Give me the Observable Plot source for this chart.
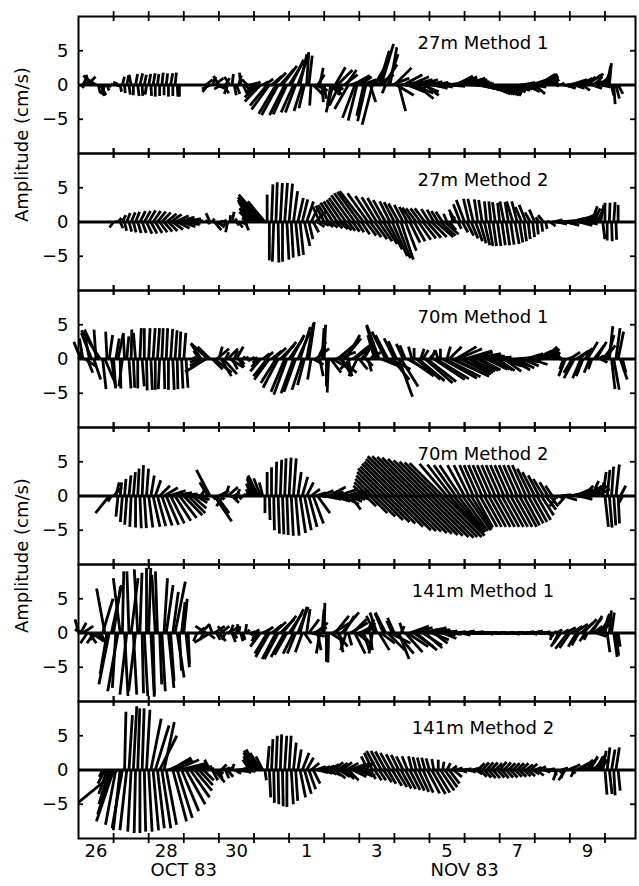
<!DOCTYPE html>
<html><head><meta charset="utf-8">
<script src="https://cdn.jsdelivr.net/npm/d3@7"></script>
<script src="https://cdn.jsdelivr.net/npm/@observablehq/plot@0.6"></script>
<style>
body{margin:0;background:#fff}
g[aria-label="panel-title"] text{letter-spacing:0.8px}
g[aria-label="y-label"] text{letter-spacing:2px}
g[aria-label="month-label"] text{letter-spacing:1.5px}
</style>
</head><body><div id="chart"></div>
<script>
// Panels (top to bottom)
const panels = ["27m Method 1","27m Method 2","70m Method 1","70m Method 2","141m Method 1","141m Method 2"];
// Samples every 3 h from 26 Oct 83 00:00 (arrays without suffix) and the samples
// in between, offset by 1.5 h (arrays with suffix "h"). u = east, v = north (cm/s)
const sampleStepDays = 0.125;

const u27m1 = [null,0.5,1.2,-1.2,-1.5,0.8,-0.5,0.3,0.2,0,
 0.3,0.3,-0.3,0.3,0.4,0.3,0.3,0.3,0.2,0.2,
 0.2,0.3,0.2,0,null,null,null,null,null,1,
 -1.2,1.3,-0.8,0.8,-0.5,0.2,0.5,-0.2,0.9,1.2,
 -1.0,-2,0.8,-2.5,1.5,-2.5,2.0,-2.2,2.0,-1.8,
 1.5,-1.2,0.3,-0.2,1.8,0.5,0.3,2.0,-1.0,2.2,
 -0.5,1.5,2.8,-1.8,1.8,-1.0,2.0,-1.5,2.5,1.8,
 -0.5,1.0,2.5,1.0,2.8,2.5,3.0,2.5,2.5,2.0,
 2.5,2.0,1.8,1.5,1.5,2.0,2.5,2.5,3.0,3.0,
 3.0,3.0,3.0,3.0,2.5,2.5,2.5,2.5,2.0,2.5,
 2.5,2.0,2.0,2.5,1.5,2.2,2.0,1.5,1.0,0.3,
 0.5,1.5,2.5,1.5,2.0,1.0,2.0,1.5,1.0,1.5,
 0.8,0.3,0.2,0.7,null];
const v27m1 = [null,1.0,1.2,1.4,1.0,-1.5,-1.4,-0.3,0.5,-0.3,
 1.2,1.4,1.5,1.6,1.7,1.5,1.6,1.7,1.6,1.8,
 1.7,1.7,1.8,-1.7,null,null,null,null,null,0.8,
 -0.6,1.0,1.3,-1.2,-1.3,1.6,-1.3,1.8,-1.0,0.3,
 -1.5,-1.8,0.5,-3.0,1.3,-4.2,2.3,-4.4,3.2,-4.0,
 4.2,-3.8,4.8,-3.0,-0.8,2.5,-2.0,-1.4,-4.0,2.2,
 -1.5,2.2,1.0,-4.8,1.2,-4.5,1.0,-5.8,1.5,6.0,
 -1.2,5.5,2.5,-3.8,1.5,-1.0,0.8,-2.0,0.8,-1.5,
 0.3,-0.5,0.2,-0.3,0.2,-0.2,1.3,0.9,1.0,0.5,
 0.2,-0.6,-0.8,-1.0,-1.2,-1.3,-1.4,-1.5,-1.2,-0.8,
 -0.5,0.4,-1.0,0.8,-1.3,1.5,1.6,1.2,0.8,-0.2,
 0.3,-0.5,0.8,-0.5,1.0,-0.8,1.5,-0.5,1.7,-0.3,
 2.0,3.2,-2.8,-1.3,null];
const u27m1h = [0.5,1.0,-0.5,-1.4,0.3,0.2,0.3,0.2,0.2,0.2,
 0.1,0.2,0,0.2,0.1,-0.2,0.1,0,0,0,
 0,0,0.1,null,null,null,null,null,null,-0.8,
 0.5,1.2,-1.0,0.6,-0.8,0.3,0.4,0.6,-0.8,-0.6,
 0.6,-2.3,1.2,-2.6,1.8,-2.4,2.1,-2.0,1.8,-1.5,
 1.0,-0.8,0.5,1.5,1.0,0.2,2.5,-0.5,1.5,-1.5,
 2.0,-2.0,2.5,-1.3,2.2,-1.2,0.8,2.0,1.5,2.0,
 1.5,2.5,2.5,2.0,3.0,2.8,2.8,2.5,2.3,2.2,
 2.2,1.8,1.6,1.5,1.8,2.3,2.8,2.8,3.0,3.0,
 3.0,3.0,3.0,2.8,2.5,2.5,2.5,2.2,2.2,2.5,
 2.2,2.0,2.2,2.0,2.0,2.1,1.8,1.2,0.6,0.4,
 1.0,2.0,2.0,1.8,1.5,1.5,1.8,1.2,1.2,1.0,
 0.5,0.3,0.5,null,null];
const v27m1h = [-0.4,0.4,1.5,0.3,-1.2,-1.6,-0.8,0.2,0.4,-1.0,
 -1.2,-1.4,-1.5,-1.6,-1.6,-1.4,-1.6,-1.7,-1.6,-1.5,
 -1.7,-1.6,-1.7,null,null,null,null,null,null,-1.0,
 1.2,-0.5,-0.6,1.0,1.2,-1.5,1.4,-1.3,0.8,-1.0,
 0.5,-2.4,0.9,-3.6,1.8,-4.4,2.8,-4.3,3.7,-4.0,
 4.5,-3.4,4.3,-1.5,1.5,-2.5,-0.6,-3.0,2.6,-3.0,
 1.5,-3.5,1.4,-5.2,0.8,-5.3,-2.5,3.5,5.0,3.0,
 4.5,1.0,-1.5,0.3,-0.5,1.2,-1.2,0.5,-1.0,0.5,
 -0.3,0.4,-0.2,0.1,0.0,0.8,1.2,0.8,0.8,0.3,
 -0.3,-0.7,-0.9,-1.1,-1.3,-1.4,-1.5,-1.3,-1.0,-0.6,
 -0.1,-0.5,0.2,-0.3,1.0,1.6,1.4,1.0,0.3,0.1,
 -0.2,0.3,0.2,0.5,0.2,1.2,0.5,1.2,0.8,1.5,
 2.8,-1.5,-2.0,null,null];

const u27m2 = [null,null,null,null,null,null,null,null,-0.6,0.5,
 0.5,0.5,0.6,0.6,0.8,0.9,1.0,1.1,1.2,1.3,
 1.5,1.6,2.0,2.2,2.5,2.2,null,null,null,0.3,
 -0.6,1.0,0.8,0.5,-0.3,0.3,0.4,1.0,0.5,-1.5,
 -2.0,-3.0,-3.5,0,0.2,0.2,0.3,0.4,0.5,0.6,
 0.8,0.8,1.0,1.0,1.5,-1.0,-1.2,-1.5,-1.8,-2.0,
 -2.2,-2.5,-2.8,-3.0,-3.2,-3.5,-3.0,-2.5,-2.2,-2.0,
 -1.8,-1.5,-1.5,-1.5,-1.3,-1.2,-1.4,-1.5,-1.5,-1.5,
 -1.2,-1.0,-1.0,-1.0,-0.5,0.5,-1.0,-1.0,-1.2,-0.8,
 -0.8,-0.5,-0.5,-0.3,-0.3,-0.4,-0.3,-0.6,-0.5,-0.9,
 -0.8,-0.9,-1.0,-0.8,-0.8,-0.5,-0.8,0.2,1.5,1.5,
 2.0,2.0,2.0,2.5,2.0,1.5,1.5,0.8,1.0,0.5,
 0,0.1,0.2,0,null];
const v27m2 = [null,null,null,null,null,null,null,null,-0.8,0.6,
 1.0,1.3,1.4,1.5,1.6,1.6,1.7,1.6,1.5,1.4,
 1.2,1.1,0.9,0.7,0.5,0.2,null,null,null,0.3,
 1.3,-1.2,-0.8,0.3,-1.5,1.5,-0.5,-0.4,-1.2,1.5,
 2.5,3.2,4.0,4.0,5.5,5.8,5.7,5.7,5.6,4.5,
 3.5,3.3,3.0,2.0,1.5,2.2,2.4,2.5,2.8,3.0,
 3.2,3.5,3.9,4.2,4.4,4.5,4.2,3.8,3.6,3.5,
 3.2,3.0,2.9,2.7,2.5,2.2,2.1,2.0,2.0,2.0,
 1.9,1.8,1.6,1.5,1.2,0.8,1.8,2.6,3.2,3.4,
 3.4,3.3,3.2,3.0,3.0,2.9,2.8,3.0,2.9,3.0,
 3.0,2.2,2.5,1.4,1.8,0.7,1.0,0.2,0.3,-0.3,
 0.2,-0.5,0.5,0.8,-0.5,1.0,-0.3,2.3,1.5,2.5,
 2.8,2.8,2.9,2.5,null];
const u27m2h = [null,null,null,null,null,null,null,null,0.2,0.4,
 0.3,0.4,0.4,0.5,0.6,0.8,0.9,1.0,1.1,1.2,
 1.3,1.5,1.8,2.0,2.0,1.5,null,null,null,0.3,
 0.3,0.8,0.3,-0.2,0.1,0.4,0.6,0.8,-0.8,-1.8,
 -2.6,-3.3,-2.5,0,-0.2,0.1,0,0.3,0.3,0.5,
 0.5,0.8,0.6,0.8,1.0,1.0,1.0,1.0,1.1,1.2,
 1.1,1.0,1.0,1.0,1.2,1.5,1.6,1.8,1.9,2.0,
 2.1,2.2,2.0,1.8,1.6,1.5,1.6,1.8,1.9,2.0,
 2.2,2.5,2.2,2.0,1.0,-0.5,0.5,0.8,1.0,1.0,
 1.0,0.9,0.8,0.6,0.5,0.5,0.5,0.5,0.5,0.6,
 0.5,0.4,0.3,0.3,0.2,0.2,0.2,0.8,1.5,1.8,
 2.0,2.0,2.2,2.2,1.8,1.5,1.2,0.9,0.7,0.3,
 0,0.1,0.1,null,null];
const v27m2h = [null,null,null,null,null,null,null,null,0.1,-0.9,
 -1.3,-1.4,-1.5,-1.6,-1.6,-1.7,-1.7,-1.6,-1.5,-1.4,
 -1.3,-1.1,-0.9,-0.7,-0.4,-0.2,null,null,null,-0.3,
 0.5,-0.4,0.2,-0.6,1.0,0.5,-0.8,0.2,0.6,2.0,
 2.9,3.6,3.0,-5.6,-5.8,-5.9,-5.8,-5.5,-5.2,-5.0,
 -4.8,-3.5,-2.5,-1.5,-0.7,-0.5,-0.7,-0.8,-0.9,-1.0,
 -1.2,-1.3,-1.4,-1.5,-1.8,-2.0,-2.2,-2.5,-2.8,-3.2,
 -4.0,-5.0,-5.3,-5.5,-4.2,-3.0,-2.8,-2.6,-2.4,-2.3,
 -2.2,-2.2,-2.0,-1.8,-1.2,1.3,-1.0,-1.5,-2.0,-2.4,
 -2.8,-3.1,-3.4,-3.5,-3.5,-3.5,-3.4,-3.4,-3.3,-3.2,
 -3.0,-2.8,-2.5,-2.2,-1.8,-1.4,-1.0,-0.6,0,-0.1,
 -0.2,0.1,0.6,0.2,0.4,0.4,1.5,2.0,2.0,-2.5,
 -2.7,-2.8,-2.6,null,null];

const u70m1 = [0.5,-0.5,0.8,-1.5,-0.3,-2.8,1.5,0.5,0.3,0.8,
 -0.5,0.3,0.1,-0.3,0.2,0,0.2,0.3,0.3,0.2,
 0.2,0.3,0.3,0.2,0.3,null,0.5,-1,-1.5,-3.0,
 -1.8,2.5,0.5,2.0,1.5,0.8,1.0,0.5,0.5,0.3,
 0.5,-1.0,1.0,-2.0,1.5,-2.2,2.0,-2.0,2.0,-1.8,
 1.8,-1.5,1.0,-0.5,2.0,0.5,0.2,-0.2,2.5,3.0,
 1.5,2.0,-1.5,2.0,1.2,1.5,0.5,1.2,-1.5,2.5,
 -2.0,3.0,-1.5,2.0,-1.0,3.5,-0.5,3.5,0.5,4.0,
 1.0,4.5,-0.5,5.0,0.5,5.5,3.0,4.5,4.0,3.5,
 4.0,3.0,3.0,3.0,3.0,2.5,2.5,2.5,3.0,2.5,
 3.0,2.5,2.5,2.5,2.5,2.0,2.0,1.5,1.0,0.5,
 0.5,-1.0,1.5,-1.5,2.0,-1.0,1.5,-0.5,1.5,1.0,
 1.5,0.5,0.8,0.8,0.5];
const v70m1 = [1.5,3.0,-2.0,3.8,4.3,4.2,-3.5,3.5,-4.3,3.8,
 -4.0,3.3,4.3,3.8,4.5,4.5,4.5,4.5,4.5,4.5,
 4.5,4.4,4.2,4.0,3.8,null,0.3,-0.5,2.2,-1.9,
 1.8,-2.0,1.8,-2.2,1.5,-1.5,1.8,-0.8,0.3,-0.2,
 0.2,-1.2,0.8,-2.5,1.2,-3.5,2.0,-4.8,3.0,-5.0,
 4.0,-4.5,5.2,-3.0,1.5,-2.5,5.0,-4.9,-1.5,2.5,
 -2.5,3.5,-1.5,1.5,-1.5,2.5,-1.8,1.0,4.8,-1.0,
 4.0,-1.5,3.0,-5.5,2.2,-2.0,1.8,-3.0,1.5,-3.5,
 1.2,-3.0,1.3,-2.8,1.8,-2.5,1.8,-2.2,1.2,-2.0,
 0.8,-1.7,0.5,-1.5,0.3,-1.6,-0.5,-1.8,-0.3,-1.6,
 0.3,-1.0,0.8,-0.8,1.2,0.2,1.8,1.0,1.5,0.5,
 -0.3,-2.5,1.0,-2.8,1.5,-2.5,2.5,-1.5,2.5,-0.5,
 2.0,4.8,-4.5,4.0,-2.0];
const u70m1h = [-1.0,1.5,-0.8,1.0,-2.0,0.5,-0.2,0.6,0.5,0.1,
 -0.2,0.3,0.2,0,0.3,0.1,0.2,0,-0.2,0.1,
 0,0.2,0.1,0.2,0.3,null,0.3,-0.8,-2.0,-2.5,
 1.5,1.8,1.5,0.5,2.0,0.5,0.8,0.3,0.4,0.4,
 -0.5,-1.5,1.2,-2.2,1.8,-2.2,2.0,-1.9,1.9,-1.7,
 1.5,-1.0,0.8,1.5,1.2,0.3,0,1.5,3.0,2.5,
 2.5,0.5,2.5,-1.2,1.5,1.0,0.8,-1.0,-1.8,2.8,
 -1.8,2.5,-1.2,2.5,-0.8,3.5,0,3.8,0.8,4.2,
 0.5,4.8,0,5.2,1.8,5.0,3.5,4.2,3.8,3.5,
 3.5,3.0,3.0,3.0,2.8,2.5,2.8,2.8,2.8,2.8,
 2.8,2.5,2.5,2.5,2.2,2.0,1.8,1.2,0.8,0.5,
 -0.5,0.5,-1.2,1.8,-1.2,1.0,-0.8,1.5,0.8,1.2,
 1.0,0.5,0.6,1.0,null];
const v70m1h = [2.5,-1.0,4.0,-3.0,4.3,-4.4,4.0,-4.0,3.0,-4.3,
 3.6,-4.3,-4.2,-4.3,-4.0,-4.6,-4.5,-4.5,-4.4,-4.4,
 -4.5,-4.5,-4.4,-4.3,-4.2,null,-0.3,1.2,-1.0,2.3,
 -1.5,1.5,-2.5,1.0,-1.2,1.2,-1.2,0.4,-0.3,0.3,
 -0.6,-1.8,1.0,-3.0,1.6,-4.2,2.5,-5.2,3.5,-4.8,
 4.7,-3.8,5.4,-0.8,2.5,4.5,-4.0,-2.0,1.0,-2.0,
 3.0,-2.5,2.0,-2.5,2.0,-1.0,0.8,3.5,5.0,-1.2,
 3.5,-3.0,2.6,-4.0,2.0,-2.5,1.6,-3.2,1.3,-3.3,
 1.3,-2.9,1.5,-2.6,1.8,-2.4,1.5,-2.1,1.0,-1.8,
 0.6,-1.6,0.4,-1.5,-0.2,-1.7,-1.0,-1.2,-1.0,-1.3,
 -0.4,-0.2,0.1,0.3,0.8,1.2,1.5,1.3,1.0,0.1,
 -1.5,0.2,-2.0,1.2,-2.8,1.5,-2.0,2.0,0.5,1.5,
 3.5,-4.4,4.5,-3.0,null];

const u70m2 = [null,null,null,null,null,null,null,-2.0,1.2,-0.3,
 -0.3,-0.3,-0.2,0,0.2,0.3,0.6,1.0,1.2,1.5,
 1.8,2.0,2.3,2.5,2.7,2.5,2.0,1.5,0.5,-0.8,
 -2.0,2.5,1.5,-1.0,1.5,1.0,0.5,0.3,0.5,-0.5,
 -1.0,-1.5,-0.5,0,0,0.1,0.2,0.2,0.3,0.4,
 0.5,0.8,1.0,1.3,1.5,2.0,2.5,2.5,2.5,3.0,
 2.5,2.5,1.5,2.0,1.5,-1.5,-2.0,-2.5,-3.0,-3.5,
 -4.0,-4.3,-4.7,-5.0,-5.4,-5.8,-5.8,-5.7,-5.6,-5.4,
 -5.2,-5.0,-4.9,-4.8,-4.0,-3.5,-3.2,-3.0,-2.5,-2.2,
 -2.0,-2.0,-2.0,-2.0,-2.0,-2.0,-2.0,-2.0,-2.0,-2.0,
 -2.0,-2.0,-2.0,-1.9,-1.8,-1.6,-1.5,-1.2,-1.0,-1.0,
 1.5,-1.0,2.5,2.5,2.0,1.5,2.5,1.0,2.0,0.5,
 0.5,0.4,0.3,0.2,-0.5];
const v70m2 = [null,null,null,null,null,null,null,-2.5,1.3,-3.0,
 -3.8,-4.2,-4.5,-4.6,-4.7,-4.7,-4.6,-4.5,-4.4,-4.3,
 -4.2,-4.0,-3.6,-3.2,-2.8,-2.5,-1.8,-1.0,1.0,-0.5,
 3.8,-3.7,0.8,-1.5,1.3,-1.0,1.0,-0.3,0.2,1.0,
 2.5,3.0,2.0,3.5,4.2,5.0,5.3,5.5,5.6,5.5,
 3.5,2.8,2.0,1.0,0.5,0.8,-0.5,1.3,-0.8,1.0,
 -1.2,0.8,-2.0,0.8,-0.5,1.5,2.0,2.5,3.0,3.5,
 4.0,4.3,4.7,5.0,5.4,5.8,5.8,5.7,5.6,5.4,
 5.2,5.0,4.9,4.8,4.7,4.6,4.5,4.5,4.5,4.5,
 4.5,4.5,4.5,4.5,4.5,4.5,4.5,4.5,4.5,4.5,
 4.5,4.5,4.5,4.0,3.5,3.0,2.5,2.0,1.5,-1.5,
 0.2,-1.2,0.3,1.0,-0.5,1.5,0.8,2.2,1.0,2.0,
 -4.5,-4.6,-4.3,-4.0,-1.0];
const u70m2h = [null,null,null,null,null,null,null,-0.5,0.5,0.2,
 0.2,0.3,0.3,0.2,0.2,0.3,0.5,0.8,1.5,2.0,
 2.5,2.8,3.0,3.0,3.0,2.8,2.0,1.0,-0.3,-1.2,
 0.5,1.8,0.5,0.5,1.2,0.8,0.4,0.4,0,-0.8,
 -1.3,-1.0,0,0.1,0.1,0.2,0.2,0.2,0.3,0.5,
 0.8,1.0,1.2,1.5,1.8,2.2,2.5,2.5,2.8,2.8,
 2.5,2.0,1.8,1.8,-0.5,1.5,2.5,3.0,3.5,3.8,
 4.0,4.5,5.0,5.1,5.2,5.4,5.5,5.7,5.8,6.0,
 6.1,6.0,6.0,5.8,5.0,4.5,4.0,3.7,3.5,3.0,
 2.5,2.5,2.5,2.5,2.5,2.5,2.5,2.5,2.5,2.5,
 2.5,2.3,2.2,2.1,2.0,1.8,1.5,1.2,0.5,0.5,
 2.0,1.5,2.5,2.2,1.8,2.0,1.8,1.5,1.2,0.5,
 0.4,0.3,0.5,0.8,null];
const v70m2h = [null,null,null,null,null,null,null,-0.8,2.0,2.0,
 2.5,3.0,3.5,4.0,4.5,4.0,3.0,2.3,1.5,1.2,
 0.8,0.5,0.3,0.1,-0.2,-0.5,-0.5,-0.3,0.5,2.0,
 -0.5,-2.5,-0.5,1.5,-0.3,0.5,-0.5,0.3,0.5,1.8,
 2.8,2.6,-2.5,-3.5,-5.0,-5.5,-5.6,-5.7,-5.8,-5.8,
 -5.4,-5.0,-4.5,-4.0,-2.5,-0.2,0.6,0.2,0.1,0.0,
 -0.2,-0.8,-0.5,0.2,0.8,-1.5,-2.5,-3.0,-3.5,-3.8,
 -4.0,-4.5,-5.0,-5.1,-5.2,-5.4,-5.5,-5.7,-5.8,-6.0,
 -6.1,-6.0,-6.0,-5.8,-5.5,-5.3,-5.2,-5.1,-5.0,-4.8,
 -4.6,-4.5,-4.5,-4.5,-4.5,-4.5,-4.5,-4.5,-4.5,-4.5,
 -4.5,-4.3,-4.0,-3.8,-3.5,-2.8,-2.0,-1.5,-0.3,-0.3,
 -0.6,0.2,0.6,-0.2,1.0,1.2,1.5,1.5,1.5,3.5,
 3.8,4.3,4.6,1.5,null];

const u141m1 = [-0.5,1.5,-1.0,1.8,-0.8,1.0,-1.2,-1.5,1.0,-1.5,
 0.2,-1.0,1.0,-1.0,0.3,0.5,0.3,0.2,-0.3,0.5,
 1.0,0.5,1.5,0.3,0.5,0.2,null,-0.5,1.2,-1.5,
 -2.3,1.5,1.0,-0.8,1.5,0.5,0.2,0.3,0.2,0.5,
 0.8,-1.0,1.0,-1.8,1.5,-2.0,2.0,-2.0,2.0,-1.5,
 1.5,-1.0,0.5,2.0,1.8,-0.5,0.1,-0.1,2.5,1.5,
 2.5,-0.8,2.5,1.5,2.0,0.8,1.0,-0.5,-1.0,2.0,
 -1.5,3.0,-1.0,1.5,-0.5,3.0,3.0,3.0,3.0,2.5,
 3.0,2.0,2.5,2.0,1.5,1.5,1.5,1.5,1.5,1.5,
 1.5,1.2,1.2,1.0,1.0,1.0,1.0,1.0,1.0,1.0,
 1.0,1.2,1.2,1.0,1.2,1.0,1.0,0.8,-0.3,0.8,
 -1.5,1.5,-1.5,2.0,-1.0,2.0,-0.5,1.5,1.5,1.5,
 0.5,0.3,0.5,0.3,null];
const v141m1 = [2.0,1.0,-1.5,-1.2,-1.0,-1.8,6.5,-7.5,6.8,-8.5,
 9.0,-9.0,8.0,-8.5,8.8,-9.2,9.5,-9.0,9.0,-8.5,
 7.0,-7.0,7.5,-5.5,5.0,-4.5,null,-1.2,1.3,1.0,
 -1.4,1.0,-1.2,1.0,0.8,-1.3,1.3,-1.2,1.3,-0.3,
 0.5,-1.2,0.5,-3.0,1.2,-3.8,2.0,-3.5,3.0,-3.0,
 3.8,-2.8,3.5,-0.5,1.5,-3.0,4.4,-4.3,1.5,-2.0,
 3.0,-2.5,1.5,-3.0,1.0,-2.5,1.5,-3.0,3.0,-1.5,
 3.0,-1.5,2.2,-3.8,1.5,-2.0,0.8,-2.5,0.6,-2.2,
 0.5,-1.5,0.2,-0.8,0.3,-0.2,0.2,-0.3,0.3,0,
 0.2,-0.1,0.1,-0.2,0.1,-0.1,0.1,-0.1,0.1,-0.2,
 0.1,-0.1,0.2,-0.2,0.3,-0.1,0.2,-0.5,-1.0,0.5,
 -2.0,0.8,-2.2,1.3,-1.8,2.0,-1.0,2.5,-0.5,1.5,
 2.5,3.3,-3.5,-2.0,null];
const u141m1h = [0.8,-1.5,1.0,-1.0,0.5,1.5,-1.0,1.5,-0.5,-1.0,
 0.5,-0.3,0.5,-0.5,0.2,0,0.5,-0.5,0.3,0.5,
 0.8,0.8,1.0,0.5,0.5,null,null,0.8,-0.5,1.0,
 -0.5,0.5,1.2,-0.5,0.5,0.4,0.2,0.3,0.3,0.5,
 -0.5,-1.5,1.2,-2.0,1.8,-2.0,2.0,-1.8,1.8,-1.2,
 1.0,1.0,1.5,2.0,0.5,0.3,0,1.5,2.0,0.5,
 1.5,0.5,2.0,1.8,1.5,1.2,0.3,-1.2,1.5,-1.2,
 2.5,-0.8,2.5,0.5,2.5,2.8,2.8,3.0,2.8,2.8,
 2.5,2.2,2.2,1.8,1.5,1.5,1.5,1.5,1.5,1.5,
 1.3,1.2,1.1,1.0,1.0,1.0,1.0,1.0,1.0,1.0,
 1.1,1.2,1.1,1.1,1.1,1.0,0.9,0.5,0.3,-0.8,
 0.8,-1.8,1.5,-1.2,1.8,-0.8,1.8,1.2,1.5,1.0,
 0.4,0.4,0.4,null,null];
const v141m1h = [1.5,0.5,-1.5,-1.5,-0.8,5.0,-6.0,7.0,-8.0,8.0,
 -9.2,9.0,-9.0,9.3,-8.8,9.5,-9.3,8.5,-7.5,8.0,
 -8.0,6.0,-6.5,4.5,-5.0,null,null,0.8,-1.0,-0.8,
 1.3,-1.0,1.0,-1.0,1.2,-0.8,1.0,-1.0,0.5,0.2,
 -0.8,-2.0,0.9,-3.5,1.6,-3.8,2.5,-3.2,3.5,-3.0,
 3.8,-1.5,2.0,0.8,-2.5,3.5,-4.2,-1.0,2.5,-2.8,
 2.5,-1.8,2.0,-1.5,-1.8,2.0,-2.5,2.5,-2.5,2.8,
 -2.5,1.8,-3.0,1.0,-2.8,1.0,-2.0,0.5,-1.8,0.8,
 -1.0,0.3,-0.3,0.2,-0.1,0.1,-0.1,0.2,-0.1,0.1,
 -0.1,0.1,-0.1,0.1,-0.1,0.1,-0.1,0.1,-0.1,0.1,
 -0.1,0.1,-0.1,0.2,-0.1,0.1,-0.2,-0.5,0.3,-1.5,
 0.5,-2.3,1.0,-2.0,1.5,-1.2,2.2,1.0,1.8,2.8,
 -2.8,3.0,-3.3,null,null];

const u141m2 = [null,null,null,null,null,null,-1.0,-1.5,-2.5,-5.7,
 -1.5,-1.0,-0.5,-0.2,0,0.2,0.5,0.8,1.0,1.3,
 1.5,3.0,3.5,4.0,3.5,3.5,3.0,2.5,1.5,0.5,
 -0.8,1.5,0.5,1.0,0.8,0.3,1.5,1.0,1.5,-1.0,
 -1.5,-1.8,-1.0,0.3,0.2,0.2,0.2,0.3,0.3,0.4,
 0.5,1.0,1.0,1.2,1.5,1.5,1.5,1.5,1.5,1.5,
 1.5,1.8,2.0,2.0,2.0,1.5,-1.0,-1.2,-1.5,-1.5,
 -1.5,-1.4,-1.2,-1.1,-1.0,-0.8,-0.5,-0.5,-0.5,-0.5,
 -0.5,-0.3,0,0.2,0.5,0.8,1.0,1.0,1.0,1.0,
 1.0,1.0,1.0,1.0,1.0,1.0,1.0,1.0,1.0,1.0,
 1.0,1.0,1.0,1.0,1.0,1.0,1.0,1.0,0.8,-0.5,
 1.0,-1.0,1.5,-0.5,2.0,1.5,1.5,1.5,1.0,1.0,
 0.3,0.4,0.2,0.3,null];
const v141m2 = [null,null,null,null,null,null,-2.0,-5.0,-7.5,-4.7,
 -8.5,-8.8,-9.0,-9.2,-9.2,-9.0,-9.0,-8.8,-8.5,-8.5,
 -8.0,1.8,1.5,1.0,0.8,0.5,0.2,0.2,0.2,0.5,
 1.5,-1.8,-1.2,0.3,-1.0,0.9,-0.2,0.3,-0.2,1.5,
 2.5,3.0,2.0,3.5,4.5,5.0,5.2,5.0,5.0,4.0,
 3.0,2.5,1.8,1.0,0.5,0.5,0.6,0.8,1.1,1.0,
 1.1,1.0,0.8,0.9,0.8,1.2,2.0,2.5,2.8,2.8,
 2.7,2.5,2.3,2.2,2.0,2.0,2.0,1.9,1.8,1.8,
 1.7,1.6,1.5,1.2,1.0,0.6,0.3,-0.3,0.2,-0.3,
 0.3,1.0,1.1,1.1,1.1,1.0,1.2,1.1,1.0,1.0,
 1.0,1.0,0.8,0.9,0.4,0.5,-0.3,0.2,-0.2,-1.5,
 0.3,-1.5,0.8,-1.0,1.2,0.5,1.8,1.0,2.0,1.5,
 -3.6,-3.5,-3.7,-3.0,null];
const u141m2h = [null,null,null,null,null,-0.5,-1.2,-2.0,-1.5,-1.0,
 0.2,0.5,0.5,0.3,0.3,0.5,1.5,2.0,2.5,1.5,
 3.5,2.0,2.2,2.5,2.8,2.8,2.5,2.0,1.5,0.3,
 0.8,1.0,0.8,0.5,0.5,1.0,1.2,1.2,0.5,-1.2,
 -1.8,-1.5,0.2,0.2,0.1,0.1,0.1,0,0.3,0.3,
 0.8,1.0,1.0,1.0,1.5,1.5,1.5,1.5,1.5,1.5,
 1.5,1.5,2.0,2.0,2.0,1.0,0.8,1.0,1.0,1.2,
 1.2,1.4,1.5,1.5,1.5,1.5,1.5,1.5,1.5,1.8,
 2.0,2.0,2.0,1.8,1.5,1.2,1.0,1.0,1.0,1.0,
 1.0,1.0,1.0,1.0,1.0,1.0,1.0,1.0,1.0,1.0,
 1.0,1.0,1.0,1.0,1.0,1.0,1.0,0.8,0.3,0.5,
 -0.3,1.2,0.5,1.8,1.8,1.5,1.2,1.2,1.0,0.5,
 0.4,0.5,0.5,null,null];
const v141m2h = [null,null,null,null,null,-1.0,-3.5,-6.5,-8.0,-8.8,
 8.5,8.0,9.3,9.0,9.0,8.8,7.5,6.5,5.0,7.0,
 1.5,-7.5,-7.0,-6.0,-5.0,-4.0,-3.0,-2.2,-1.5,0.2,
 -1.5,-0.5,0.8,-1.2,0.5,-0.5,0.2,-0.4,0.5,2.0,
 2.8,2.5,-1.5,-4.0,-4.8,-5.0,-5.3,-5.4,-5.0,-4.5,
 -4.0,-3.5,-2.8,-2.0,-0.4,-0.5,-0.6,-0.8,-1.2,-1.0,
 -1.3,-1.5,-1.0,-0.8,-0.8,-1.0,-1.3,-1.5,-1.5,-1.8,
 -2.0,-2.3,-2.5,-2.7,-2.8,-2.9,-3.0,-3.2,-3.3,-3.4,
 -3.5,-3.3,-3.0,-2.5,-2.0,-1.0,-0.1,0.1,-0.1,0.2,
 -0.6,-1.0,-1.1,-1.2,-1.2,-1.1,-1.2,-1.1,-1.1,-1.0,
 -1.0,-0.9,-0.9,-0.6,-0.8,0.0,-0.1,0.0,-0.8,-0.5,
 -1.2,0.5,-0.5,1.0,1.5,1.2,2.0,1.5,2.2,2.8,
 3.3,3.0,3.3,null,null];

// Axis ticks / labels (days since 26 Oct 83 00:00)
const dayTicks = [1,2,3,4,5,6,7,8,9,10,11,12,13,14,15];
const dateLabelDays = [0.5,2.5,4.5,6.5,8.5,10.5,12.5,14.5];
const dateLabels = ["26","28","30","1","3","5","7","9"];
const monthLabelDays = [3,11];
const monthLabels = ["OCT 83","NOV 83"];
const yTicks = [-5,0,5];
const yLabel = "Amplitude (cm/s)";
const yLabelPanels = ["27m Method 2","141m Method 1"];

const series = [
  [u27m1,v27m1,u27m1h,v27m1h],[u27m2,v27m2,u27m2h,v27m2h],[u70m1,v70m1,u70m1h,v70m1h],
  [u70m2,v70m2,u70m2h,v70m2h],[u141m1,v141m1,u141m1h,v141m1h],[u141m2,v141m2,u141m2h,v141m2h]
];
const sticks = [];
series.forEach(([u,v,uh,vh],p) => {
  u.forEach((uu,i) => {
    if (uu != null && v[i] != null) sticks.push({panel: panels[p], t: i*sampleStepDays, u: uu, v: v[i]});
    if (uh[i] != null && vh[i] != null) sticks.push({panel: panels[p], t: (i+0.5)*sampleStepDays, u: uh[i], v: vh[i]});
  });
});

const W = 639, H = 886, mL = 78, mR = 4, mT = 15, mB = 47;
const xMax = 15.87, yMin = -10, yMax = 10;
const facetH = (H - mT - mB) / panels.length;
const pxPerUnit = facetH / (yMax - yMin);
const pxPerDay = (W - mL - mR) / xMax;
const k = pxPerUnit / pxPerDay;        // isotropic stick scaling
const tickY = 5 / pxPerUnit;            // 5px tick length in y units
const tickX = 5 / pxPerDay;             // 5px tick length in x units
const dateMap = new Map(dateLabelDays.map((d,i)=>[d,dateLabels[i]]));
const monthMap = new Map(monthLabelDays.map((d,i)=>[d,monthLabels[i]]));

const chart = Plot.plot({
  width: W, height: H,
  marginLeft: mL, marginRight: mR, marginTop: mT, marginBottom: mB,
  style: {fontFamily: "'DejaVu Sans', sans-serif", fontSize: "18px", color: "#000", background: "#fff"},
  x: {domain: [0, xMax]},
  y: {domain: [yMin, yMax]},
  fy: {domain: panels, padding: 0, axis: null},
  marks: [
    Plot.link(sticks, {x1: "t", y1: 0, x2: d => d.t + d.u * k, y2: "v", fy: "panel", stroke: "#000", strokeWidth: 2.8}),
    Plot.ruleY([0], {stroke: "#000", strokeWidth: 3}),
    Plot.frame({stroke: "#000", strokeWidth: 2}),
    Plot.ruleX(dayTicks, {x: d => d, y1: yMax - tickY, y2: yMax + tickY, stroke: "#000", strokeWidth: 1.8}),
    Plot.ruleX(dayTicks, {x: d => d, y1: yMin - tickY, y2: yMin + tickY, stroke: "#000", strokeWidth: 1.8}),
    Plot.ruleY([-5, 5], {x1: 0, x2: tickX, stroke: "#000", strokeWidth: 1.8}),
    Plot.ruleY([-5, 5], {x1: xMax - tickX, x2: xMax, stroke: "#000", strokeWidth: 1.8}),
    Plot.axisY({ticks: yTicks, tickSize: 0, tickPadding: 10, label: null, fontSize: 18}),
    Plot.axisX({ticks: dateLabelDays, tickFormat: d => dateMap.get(d), tickSize: 0, tickPadding: 6, label: null, fontSize: 18}),
    Plot.axisX({ticks: monthLabelDays, tickFormat: d => monthMap.get(d), tickSize: 0, tickPadding: 25, label: null, fontSize: 18, ariaLabel: "month-label"}),
    Plot.text(panels, {fy: d => d, text: d => d, frameAnchor: "top", dx: 126, dy: 20, fontSize: 18, fill: "#000", ariaLabel: "panel-title"}),
    Plot.text(yLabelPanels, {fy: d => d, text: () => yLabel, frameAnchor: "left", dx: -56, rotate: -90, fontSize: 18, fill: "#000", ariaLabel: "y-label"})
  ]
});
document.getElementById("chart").appendChild(chart);
</script>
</body></html>
